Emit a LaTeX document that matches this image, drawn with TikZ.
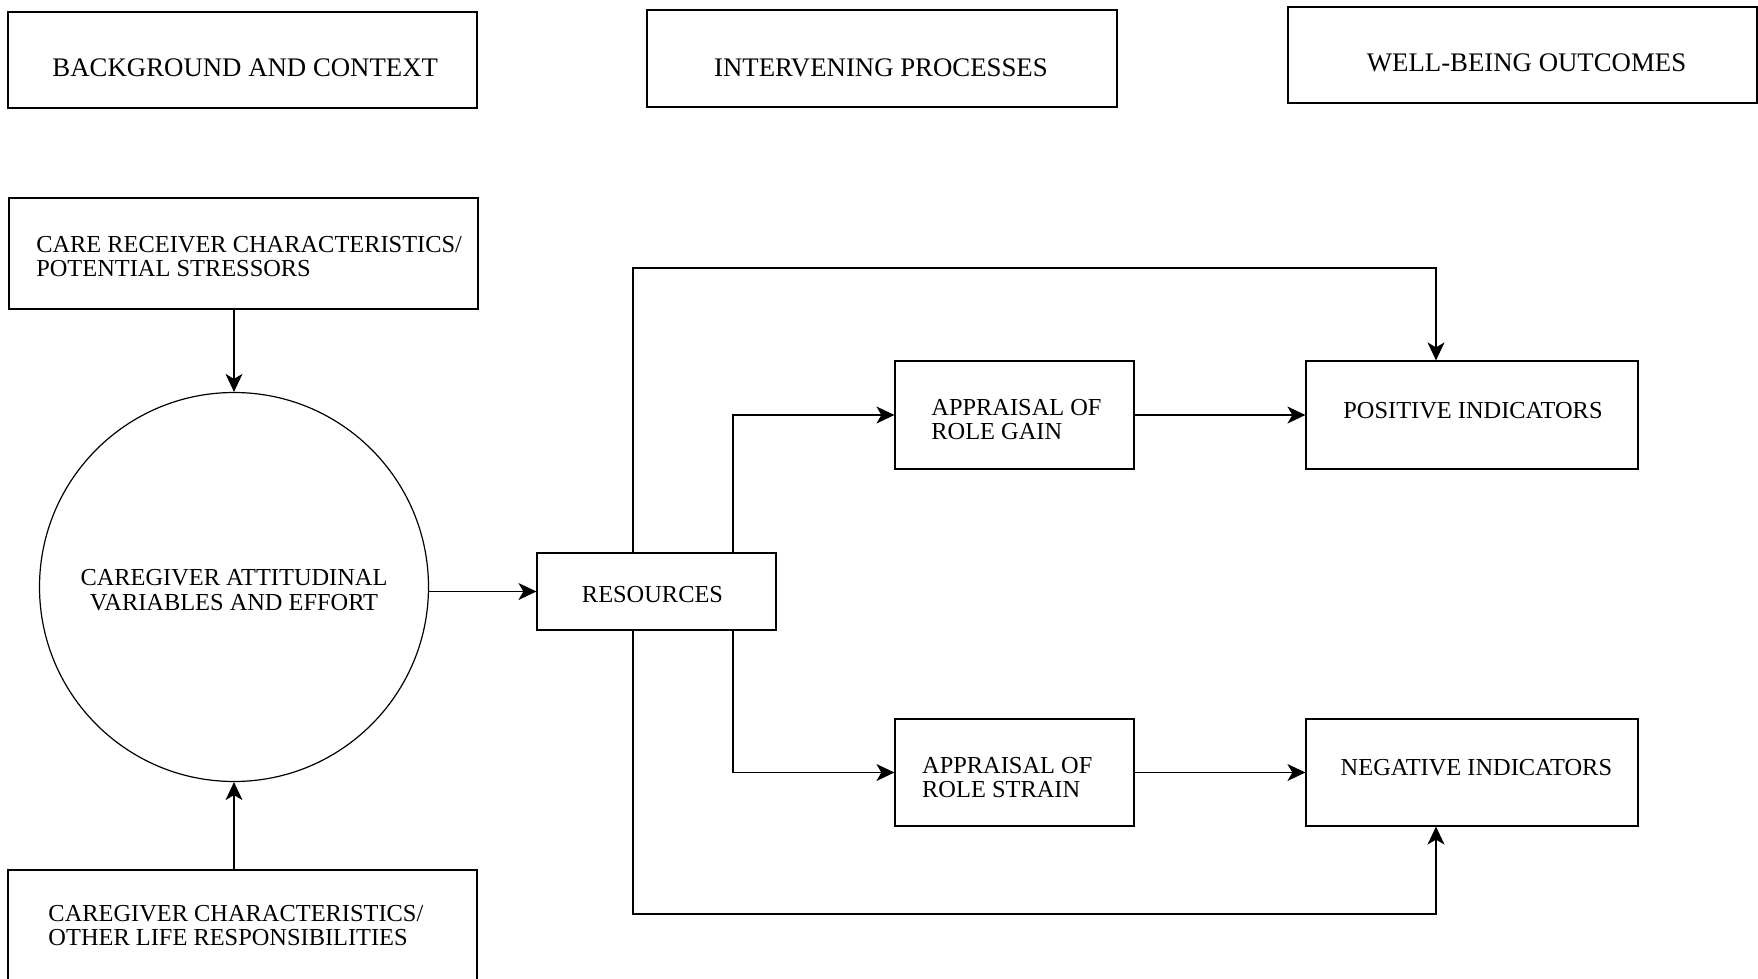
\documentclass[tikz,border=0pt]{standalone}
\usepackage{fontspec}
\setmainfont{Liberation Serif}
\usetikzlibrary{arrows.meta}
\begin{document}
\begin{tikzpicture}[x=0.5pt, y=-0.5pt, line width=0.6pt,
    box/.style={draw, rectangle, inner sep=0pt},
    txt/.style={inner sep=0pt, align=left, font=\fontsize{12.2}{12.4}\selectfont},
    head/.style={inner sep=0pt, font=\fontsize{13.4}{14}\selectfont},
    arr/.style={-{Stealth[length=9pt, width=8.5pt, inset=2.5pt]}}]
    % frame of the picture
    \useasboundingbox (0,0) rectangle (1758,979);

    % Column headers:
    \node [box, minimum width=234.5pt, minimum height=48pt] (bg) at (242.5,60) {};
    \node [box, minimum width=235pt, minimum height=48.5pt] (ip) at (882,58.5) {};
    \node [box, minimum width=234.5pt, minimum height=48pt] (wb) at (1522.5,55) {};
    \node [head] (bgT) at ([xshift=1.4pt, yshift=-4pt]bg) {BACKGROUND AND CONTEXT};
    \node [head] (ipT) at ([xshift=-0.5pt, yshift=-4.5pt]ip) {INTERVENING PROCESSES};
    \node [head] (wbT) at ([xshift=2pt, yshift=-4pt]wb) {WELL-BEING OUTCOMES};

    % Background column
    \node [box, minimum width=234.5pt, minimum height=55.5pt] (care) at (243.5,253.5) {};
    \node [draw, circle, inner sep=0pt, minimum size=194.5pt] (att) at (234,587) {};
    \node [box, minimum width=234.5pt, minimum height=55.5pt] (cgc) at (242.5,925.5) {};
    \node [txt] (careT) at ([xshift=2.8pt, yshift=-1.5pt]care)
        {CARE RECEIVER CHARACTERISTICS/\\POTENTIAL STRESSORS};
    \node [txt, align=center] (attT) at ([yshift=-1.7pt]att)
        {CAREGIVER ATTITUDINAL\\VARIABLES AND EFFORT};
    \node [txt] (cgcT) at ([xshift=-3.3pt]cgc)
        {CAREGIVER CHARACTERISTICS/\\OTHER LIFE RESPONSIBILITIES};

    % Intervening processes
    \node [box, minimum width=119.5pt, minimum height=38.5pt] (res) at (656.5,591.5) {};
    \node [box, minimum width=119.5pt, minimum height=54pt] (gain) at (1014.5,415) {};
    \node [box, minimum width=119.5pt, minimum height=53.5pt] (strain) at (1014.5,772.5) {};
    \node [txt] (resT) at ([xshift=-2pt, yshift=-1.4pt]res) {RESOURCES};
    \node [txt] (gainT) at ([xshift=1pt, yshift=-2.3pt]gain) {APPRAISAL OF\\ROLE GAIN};
    \node [txt] (strainT) at ([xshift=-3.6pt, yshift=-2.5pt]strain) {APPRAISAL OF\\ROLE STRAIN};

    % Outcomes
    \node [box, minimum width=166pt, minimum height=54pt] (pos) at (1472,415) {};
    \node [box, minimum width=166pt, minimum height=53.5pt] (neg) at (1472,772.5) {};
    \node [txt] (posT) at ([xshift=0.5pt, yshift=2.2pt]pos) {POSITIVE INDICATORS};
    \node [txt] (negT) at ([xshift=2.2pt, yshift=2.2pt]neg) {NEGATIVE INDICATORS};

    % bends of the outer paths
    \coordinate (T) at (633,268);
    \coordinate (B) at (633,914);

    % Arrows into the circle
    \draw [arr] (att.north |- care.south) -- (att.north);
    \draw [arr] (att.south |- cgc.north) -- (att.south);
    \draw [arr] (res.west -| att.east) -- (res.west);

    % Resources to appraisals
    \draw [arr] ([xshift=38.25pt]res.north) |- (gain.west);
    \draw [arr] ([xshift=38.25pt]res.south) |- (strain.west);

    % Appraisals to outcomes
    \draw [arr] (gain.east) -- (pos.west);
    \draw [arr] (strain.east) -- (neg.west);

    % Direct paths from resources
    \draw [arr] (res.north -| T) -- (T) -| ([xshift=-18pt]pos.north);
    \draw [arr] (res.south -| B) -- (B) -| ([xshift=-18pt]neg.south);
\end{tikzpicture}
\end{document}
